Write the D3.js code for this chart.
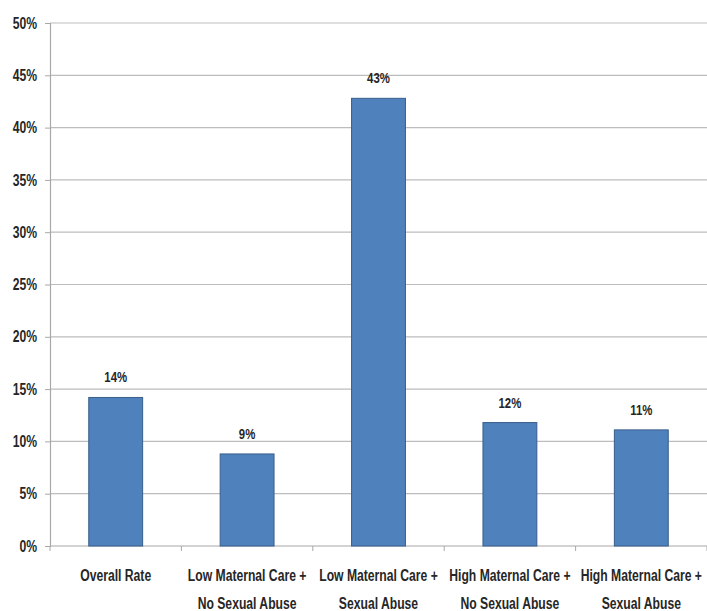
<!DOCTYPE html>
<html>
<head>
<meta charset="utf-8">
<script src="https://cdn.jsdelivr.net/npm/d3@7"></script>
<style>
  body { margin: 0; background: #fff; }
  text { font-family: "Liberation Sans", Arial, sans-serif; font-weight: bold; fill: #262626; }
</style>
</head>
<body>
<svg id="chart" width="707" height="611"></svg>
<script>
var categories = [
    ["Overall Rate"],
    ["Low Maternal Care +", "No Sexual Abuse"],
    ["Low Maternal Care +", "Sexual Abuse"],
    ["High Maternal Care +", "No Sexual Abuse"],
    ["High Maternal Care +", "Sexual Abuse"]
];
var values = [14.2, 8.8, 42.8, 11.8, 11.1];
var valueLabels = ["14%", "9%", "43%", "12%", "11%"];
var yTicks = [0, 5, 10, 15, 20, 25, 30, 35, 40, 45, 50];

var svg = d3.select("#chart");
var margin = {top: 23, right: 0, bottom: 65, left: 50};
var width = +svg.attr("width") - margin.left - margin.right;
var height = +svg.attr("height") - margin.top - margin.bottom;
var g = svg.append("g").attr("transform", "translate(" + margin.left + "," + margin.top + ")");
var sx = 0.76; // text in the original is tall and narrow

var x = d3.scaleBand()
    .domain(d3.range(categories.length))
    .range([0, width])
    .paddingInner(0.59)
    .paddingOuter(0.295);

var y = d3.scaleLinear()
    .domain([0, 50])
    .range([height, 0]);

// gridlines
g.selectAll(".grid")
    .data(yTicks.slice(1))
    .enter().append("line")
    .attr("x1", 0)
    .attr("x2", width)
    .attr("y1", function(d) { return y(d); })
    .attr("y2", function(d) { return y(d); })
    .attr("stroke", "#bdbdbd")
    .attr("stroke-width", 1.2);

// y axis
var yAxis = d3.axisLeft(y)
    .tickValues(yTicks)
    .tickSize(5)
    .tickFormat(function(d) { return d + "%"; });
var yg = g.append("g").call(yAxis);
yg.select(".domain").attr("stroke", "#a8a8a8").attr("stroke-width", 1.2);
yg.selectAll(".tick line").attr("stroke", "#a8a8a8");
yg.selectAll(".tick text")
    .attr("font-family", null)
    .attr("fill", null)
    .style("font-size", "16px")
    .attr("x", -13 / sx)
    .attr("transform", "scale(" + sx + ",1)");

// x axis baseline + ticks at category boundaries
var step = width / categories.length;
g.append("line")
    .attr("x1", 0).attr("x2", width)
    .attr("y1", height).attr("y2", height)
    .attr("stroke", "#a8a8a8").attr("stroke-width", 1.2);
g.selectAll(".xtick")
    .data(d3.range(categories.length + 1))
    .enter().append("line")
    .attr("x1", function(d) { return d * step; })
    .attr("x2", function(d) { return d * step; })
    .attr("y1", height)
    .attr("y2", height + 5)
    .attr("stroke", "#a8a8a8");

// bars
g.selectAll(".bar")
    .data(values)
    .enter().append("rect")
    .attr("x", function(d, i) { return x(i); })
    .attr("y", function(d) { return y(d); })
    .attr("width", x.bandwidth())
    .attr("height", function(d) { return height - y(d); })
    .attr("fill", "#4f81bd")
    .attr("stroke", "#385d8a")
    .attr("stroke-width", 1);

// value labels
g.selectAll(".val")
    .data(values)
    .enter().append("text")
    .attr("text-anchor", "middle")
    .attr("transform", function(d, i) {
        return "translate(" + (x(i) + x.bandwidth() / 2) + "," + (y(d) - 15) + ") scale(" + sx + ",1)";
    })
    .style("font-size", "15px")
    .text(function(d, i) { return valueLabels[i]; });

// category labels
var cat = g.selectAll(".cat")
    .data(categories)
    .enter().append("text")
    .attr("text-anchor", "middle")
    .attr("transform", function(d, i) {
        return "translate(" + (x(i) + x.bandwidth() / 2) + "," + (height + 35) + ") scale(" + sx + ",1)";
    })
    .style("font-size", "16px");
cat.selectAll("tspan")
    .data(function(d) { return d; })
    .enter().append("tspan")
    .attr("x", 0)
    .attr("dy", function(d, j) { return j === 0 ? 0 : 28; })
    .text(function(d) { return d; });
</script>
</body>
</html>
